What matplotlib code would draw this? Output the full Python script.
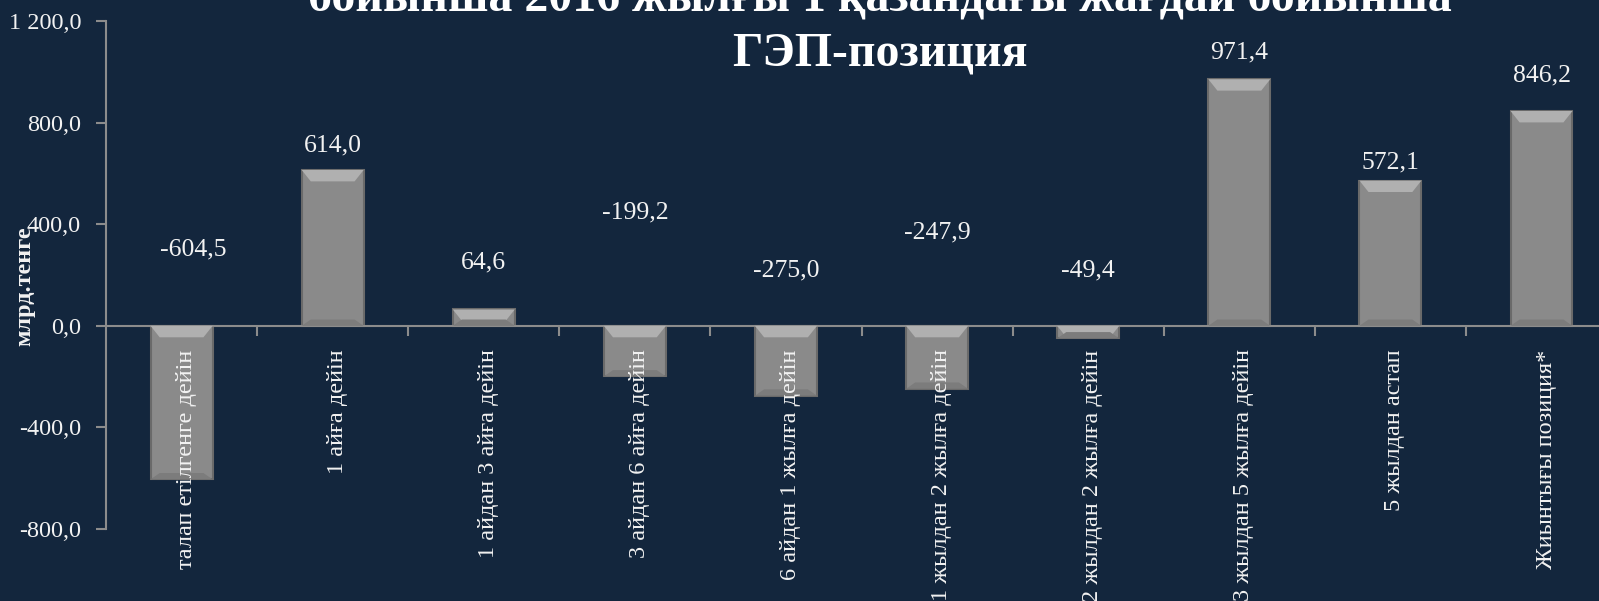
import matplotlib.pyplot as plt
from matplotlib.patches import Polygon

categories = ["талап етілгенге дейін", "1 айға дейін", "1 айдан 3 айға дейін",
              "3 айдан 6 айға дейін", "6 айдан 1 жылға дейін", "1 жылдан 2 жылға дейін",
              "2 жылдан 2 жылға дейін", "3 жылдан 5 жылға дейін", "5 жылдан астап",
              "Жиынтығы позиция*"]
values = [-604.5, 614.0, 64.6, -199.2, -275.0, -247.9, -49.4, 971.4, 572.1, 846.2]
# where the value labels sit (data units), as in the original slide
label_y = [300, 712, 250, 448, 220, 366, 220, 1075, 645, 985]

bg = "#13263d"
fg = "#f2f2f2"
serif = ["Liberation Serif", "DejaVu Serif"]
plt.rcParams['font.family'] = serif

fig = plt.figure(figsize=(15.99, 6.01), dpi=100, facecolor=bg)
ax = fig.add_axes([0.0663, 0.1198, 0.945, 0.845], facecolor=bg)

x = range(len(values))
w = 0.41
ax.bar(x, values, width=w, color="#8a8a8a", edgecolor="#6a6a6a", linewidth=1.5, zorder=2)

# bevel strip on top of each bar
strip = 45
for i, v in enumerate(values):
    top = max(v, 0)
    d = 0.06
    ax.add_patch(Polygon([(i - w / 2, top), (i + w / 2, top), (i + w / 2 - d, top - strip),
                          (i - w / 2 + d, top - strip)], closed=True,
                         facecolor="#b0b0b0", edgecolor="none", zorder=3))
    bot = min(v, 0)
    ax.add_patch(Polygon([(i - w / 2, bot), (i + w / 2, bot), (i + w / 2 - d, bot + 25),
                          (i - w / 2 + d, bot + 25)], closed=True,
                         facecolor="#7c7c7c", edgecolor="none", zorder=3))
    ax.text(i + (0.08 if i == 0 else 0), label_y[i], f"{v:.1f}".replace(".", ","),
            ha="center", va="center", color=fg, fontsize=18.5, zorder=4)
    ax.annotate(categories[i], (i + 0.03, 0), xytext=(0, -17), textcoords="offset points",
                rotation=90, ha="center", va="top", color=fg, fontsize=17.5,
                annotation_clip=False, zorder=5)

ax.set_xlim(-0.5, len(values) - 0.5)
ax.set_ylim(-800, 1200)
ax.set_yticks([-800, -400, 0, 400, 800, 1200])
ax.set_yticklabels(["-800,0", "-400,0", "0,0", "400,0", "800,0", "1 200,0"])
ax.set_xticks([i + 0.5 for i in range(len(values))])
ax.set_xticklabels([])

for s in ["top", "right"]:
    ax.spines[s].set_visible(False)
ax.spines["bottom"].set_position(("data", 0))
ax.spines["bottom"].set_color("#8c8c8c")
ax.spines["left"].set_color("#8c8c8c")
ax.spines["bottom"].set_linewidth(1.5)
ax.spines["left"].set_linewidth(1.5)
ax.tick_params(axis="y", colors="#8c8c8c", labelcolor=fg, labelsize=17.5, length=7, width=1.5,
               pad=11)
ax.tick_params(axis="x", colors="#8c8c8c", length=7, width=1.5, direction="out")

fig.text(0.0155, 0.523, "млрд.тенге", rotation=90, ha="center", va="center",
         color=fg, fontsize=17.5, fontweight="bold")

fig.text(0.55, 1 - 12 / 601, "бойынша 2016 жылғы 1 қазандағы жағдай бойынша",
         ha="center", va="baseline", color="white", fontsize=34.5, fontweight="bold")
fig.text(0.55, 1 - 65 / 601, "ГЭП-позиция",
         ha="center", va="baseline", color="white", fontsize=34.5, fontweight="bold")

fig.savefig("out.png", dpi=100, facecolor=bg)
